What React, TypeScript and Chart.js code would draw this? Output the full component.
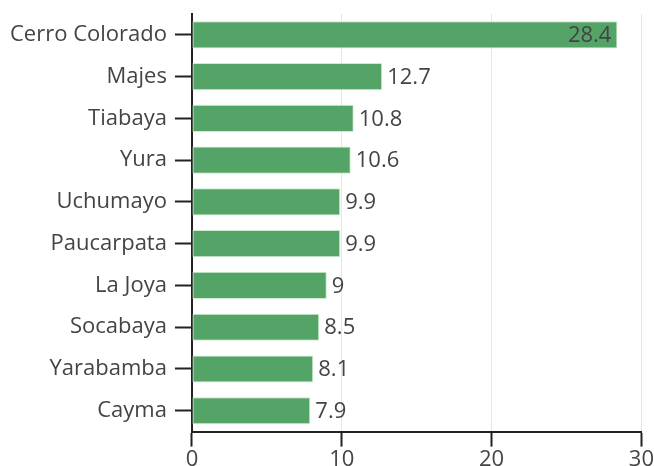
import React, { useEffect, useRef } from "react";
import { Chart, registerables } from "chart.js";

Chart.register(...registerables);

const categories = ["Cerro Colorado", "Majes", "Tiabaya", "Yura", "Uchumayo", "Paucarpata", "La Joya", "Socabaya", "Yarabamba", "Cayma"];
const values = [28.4, 12.7, 10.8, 10.6, 9.9, 9.9, 9, 8.5, 8.1, 7.9];
const xTicks = [0, 10, 20, 30];

const FONT = "'Open Sans', sans-serif";
const TEXT = "#444444";
const SIZE = 22;

const valueLabels = {
  id: "valueLabels",
  afterDatasetsDraw(chart: any) {
    const ctx = chart.ctx;
    const meta = chart.getDatasetMeta(0);
    const area = chart.chartArea;
    ctx.save();
    ctx.font = `${SIZE}px ${FONT}`;
    ctx.fillStyle = TEXT;
    ctx.textBaseline = "middle";
    meta.data.forEach((bar: any, i: number) => {
      const txt = String(values[i]);
      const w = ctx.measureText(txt).width;
      if (bar.x + 5 + w > area.right - 10) {
        ctx.textAlign = "right";
        ctx.fillText(txt, bar.x - 6, bar.y + 1);
      } else {
        ctx.textAlign = "left";
        ctx.fillText(txt, bar.x + 5, bar.y + 1);
      }
    });
    ctx.restore();
  },
};

export default function App() {
  const ref = useRef<HTMLCanvasElement | null>(null);
  useEffect(() => {
    document.body.style.margin = "0";
    document.body.style.overflow = "hidden";
    const chart = new Chart(ref.current as HTMLCanvasElement, {
      type: "bar",
      data: {
        labels: categories,
        datasets: [
          {
            data: values,
            backgroundColor: "#55a467",
            borderColor: "rgba(200,235,205,0.9)",
            borderWidth: 1,
            borderSkipped: false,
            barPercentage: 0.65,
            categoryPercentage: 1,
          },
        ],
      },
      options: {
        indexAxis: "y",
        animation: false,
        responsive: false,
        layout: { padding: { top: 14, right: 3, left: 2 } },
        plugins: { legend: { display: false }, tooltip: { enabled: false } },
        scales: {
          x: {
            min: 0,
            max: 30,
            afterBuildTicks: (axis: any) => {
              axis.ticks = xTicks.map((v) => ({ value: v }));
            },
            grid: { color: "#e6e6e6", lineWidth: 1, tickColor: "#222", tickLength: 15, tickWidth: 2 },
            border: { display: true, color: "#222", width: 2 },
            ticks: { color: TEXT, font: { family: FONT, size: SIZE }, padding: 0, maxRotation: 0 },
          },
          y: {
            afterFit: (scale: any) => {
              scale.paddingTop = 0;
              scale.paddingBottom = 0;
            },
            grid: { offset: false, drawOnChartArea: false, color: "#222", tickLength: 17, tickWidth: 2 },
            border: { display: true, color: "#222", width: 2 },
            ticks: { color: TEXT, font: { family: FONT, size: SIZE }, padding: 8 },
          },
        },
      },
      plugins: [valueLabels],
    });
    return () => chart.destroy();
  }, []);
  return (
    <div style={{ width: 654, height: 473, overflow: "hidden" }}>
      <canvas ref={ref} width={654} height={473} style={{ display: "block" }} />
    </div>
  );
}
